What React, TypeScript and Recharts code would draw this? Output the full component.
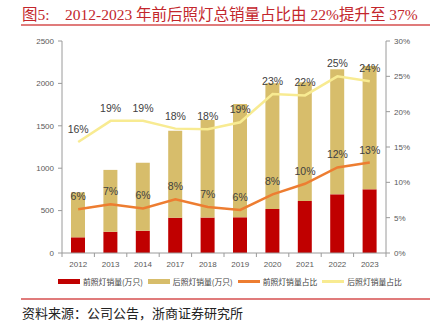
import { ComposedChart, Bar, Line, XAxis, YAxis, LabelList } from 'recharts'

const years = ['2012', '2013', '2014', '2017', '2018', '2019', '2020', '2021', '2022', '2023']
const frontSales = [185, 250, 262, 416, 418, 421, 519, 613, 692, 751]
const rearSales = [530, 730, 803, 1026, 1150, 1336, 1482, 1400, 1474, 1454]
const frontShare = [6.2, 6.9, 6.3, 7.6, 6.5, 6.1, 8.3, 9.8, 12.1, 12.8]
const rearShare = [15.7, 18.7, 18.7, 17.6, 17.5, 18.5, 22.5, 22.3, 25.0, 24.3]
const leftTicks = [0, 500, 1000, 1500, 2000, 2500]
const rightTicks = [0, 5, 10, 15, 20, 25, 30]

const data = years.map((year, i) => ({
  year,
  front: frontSales[i],
  rear: rearSales[i],
  frontShare: frontShare[i],
  rearShare: rearShare[i],
}))

const RED = '#c00000'
const GOLD = '#d7bd6b'
const ORANGE = '#ed7d31'
const YELLOW = '#f8eb92'
const AXIS = '#9a9a9a'
const TICK_TEXT = '#595959'

const W = 436
const PLOT_LEFT = 62
const PLOT_RIGHT = 386
const PLOT_TOP = 41
const PLOT_BOTTOM = 253
const HALF_BAND = (PLOT_RIGHT - PLOT_LEFT) / years.length / 2

const pct = (v: number) => `${Math.round(v)}%`

function YearTick(props: any) {
  const { x, y, payload, index } = props
  const top = y - 8
  return (
    <g>
      <line x1={x - HALF_BAND} y1={top} x2={x - HALF_BAND} y2={top + 4} stroke={AXIS} />
      {index === years.length - 1 && (
        <line x1={x + HALF_BAND} y1={top} x2={x + HALF_BAND} y2={top + 4} stroke={AXIS} />
      )}
      <text x={x} y={y + 6} textAnchor="middle" fontSize={8} fill={TICK_TEXT} fontFamily="'Liberation Sans', Arial">
        {payload.value}
      </text>
    </g>
  )
}

const legendItems = [
  { label: '前照灯销量(万只)', color: RED, kind: 'bar' },
  { label: '后照灯销量(万只)', color: GOLD, kind: 'bar' },
  { label: '前照灯销量占比', color: ORANGE, kind: 'line' },
  { label: '后照灯销量占比', color: YELLOW, kind: 'line' },
]

export default function App() {
  return (
    <div style={{ position: 'relative', width: W, height: 332, background: '#fff', overflow: 'hidden' }}>
      <style>{`body{margin:0}`}</style>
      <div
        style={{
          position: 'absolute',
          left: 22,
          top: 2,
          fontSize: 15.5,
          color: '#c3262c',
          fontFamily: "'Liberation Serif', 'Noto Sans CJK SC', serif",
          whiteSpace: 'nowrap',
        }}
      >
        图5:&nbsp;&nbsp;&nbsp; 2012-2023 年前后照灯总销量占比由 22%提升至 37%
      </div>
      <div style={{ position: 'absolute', left: 21, top: 24, width: 409, height: 1.5, background: '#e07b7b' }} />

      <div style={{ position: 'absolute', left: 0, top: 0 }}>
        <ComposedChart
          width={W}
          height={PLOT_BOTTOM + 20}
          data={data}
          margin={{ top: PLOT_TOP, right: 0, bottom: 0, left: 0 }}
          barCategoryGap={0}
        >
          <XAxis
            dataKey="year"
            height={20}
            tick={<YearTick />}
            tickLine={false}
            tickSize={4}
            tickMargin={4}
            axisLine={{ stroke: AXIS }}
            interval={0}
          />
          <YAxis
            yAxisId="left"
            width={PLOT_LEFT}
            domain={[0, 2500]}
            ticks={leftTicks}
            tick={{ fontSize: 8, fill: TICK_TEXT, fontFamily: "'Liberation Sans', Arial" }}
            axisLine={{ stroke: AXIS }}
            tickLine={{ stroke: AXIS }}
            tickSize={4}
            tickMargin={4}
          />
          <YAxis
            yAxisId="right"
            orientation="right"
            width={W - PLOT_RIGHT}
            domain={[0, 30]}
            ticks={rightTicks}
            tickFormatter={(v: number) => `${v}%`}
            tick={{ fontSize: 8, fill: TICK_TEXT, fontFamily: "'Liberation Sans', Arial" }}
            axisLine={{ stroke: AXIS }}
            tickLine={{ stroke: AXIS }}
            tickSize={4}
            tickMargin={4}
          />
          <Bar yAxisId="left" dataKey="front" stackId="s" fill={RED} barSize={14} isAnimationActive={false} />
          <Bar yAxisId="left" dataKey="rear" stackId="s" fill={GOLD} barSize={14} isAnimationActive={false} />
          <Line
            yAxisId="right"
            dataKey="frontShare"
            stroke={ORANGE}
            strokeWidth={2.5}
            dot={false}
            type="linear"
            isAnimationActive={false}
          >
            <LabelList
              dataKey="frontShare"
              position="top"
              offset={9}
              formatter={pct as any}
              style={{ fontSize: 10.5, fill: '#404040', fontFamily: "'Liberation Sans', Arial" }}
            />
          </Line>
          <Line
            yAxisId="right"
            dataKey="rearShare"
            stroke={YELLOW}
            strokeWidth={2.5}
            dot={false}
            type="linear"
            isAnimationActive={false}
          >
            <LabelList
              dataKey="rearShare"
              position="top"
              offset={9}
              formatter={pct as any}
              style={{ fontSize: 10.5, fill: '#404040', fontFamily: "'Liberation Sans', Arial" }}
            />
          </Line>
        </ComposedChart>
      </div>

      <div
        style={{
          position: 'absolute',
          left: 58,
          top: 276,
          display: 'flex',
          alignItems: 'center',
          fontSize: 7.8,
          color: '#404040',
          fontFamily: "'Noto Sans CJK SC', sans-serif",
          whiteSpace: 'nowrap',
        }}
      >
        {legendItems.map((item) => (
          <div key={item.label} style={{ display: 'flex', alignItems: 'center', marginRight: 5 }}>
            <span
              style={{
                display: 'inline-block',
                width: 22,
                height: item.kind === 'bar' ? 5 : 3,
                background: item.color,
                marginRight: 3,
              }}
            />
            <span>{item.label}</span>
          </div>
        ))}
      </div>

      <div style={{ position: 'absolute', left: 21, top: 298, width: 409, height: 1.5, background: '#e07b7b' }} />
      <div
        style={{
          position: 'absolute',
          left: 22,
          top: 303,
          fontSize: 13,
          color: '#222',
          fontFamily: "'Noto Sans CJK SC', serif",
          whiteSpace: 'nowrap',
        }}
      >
        资料来源：公司公告，浙商证券研究所
      </div>
    </div>
  )
}
